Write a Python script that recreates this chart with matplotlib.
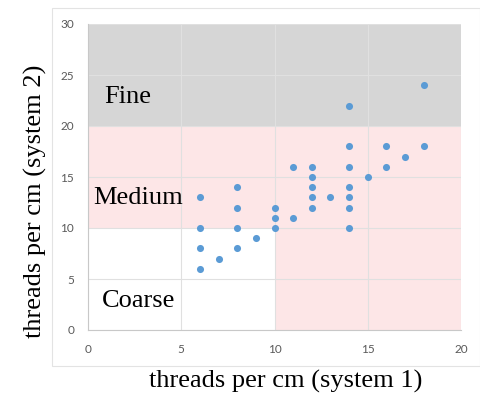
import matplotlib.pyplot as plt
from matplotlib.patches import Rectangle

# data points (system 1, system 2)
sys1 = [14, 18, 14, 16, 18, 17, 11, 12, 14, 16, 12, 15, 8, 12, 14,
        6, 12, 13, 14, 8, 10, 12, 14, 10, 11, 6, 8, 10, 14, 9, 6, 8, 7, 6]
sys2 = [22, 24, 18, 18, 18, 17, 16, 16, 16, 16, 15, 15, 14, 14, 14,
        13, 13, 13, 13, 12, 12, 12, 12, 11, 11, 10, 10, 10, 10, 9, 8, 8, 7, 6]

# class regions: (x0, x1, y0, y1)
fine_box = (0, 20, 20, 30)
medium_boxes = [(0, 20, 10, 20), (10, 20, 0, 10)]
labels = ["Fine", "Medium", "Coarse"]
label_pos = [(0.86, 22.8), (0.3, 12.9), (0.75, 2.85)]

fig = plt.figure(figsize=(4.81, 3.94), dpi=100)

# outer chart frame
fig.patches.append(Rectangle((52 / 481, 28 / 394), 428 / 481, 358 / 394,
                             transform=fig.transFigure, fill=False,
                             edgecolor="#e3e3e3", lw=0.8))

ax = fig.add_axes([88 / 481, 64 / 394, 373 / 481, 306 / 394])

x0, x1, y0, y1 = fine_box
ax.fill_between([x0, x1], y0, y1, color="#d6d6d6", lw=0, zorder=0)
for x0, x1, y0, y1 in medium_boxes:
    ax.fill_between([x0, x1], y0, y1, color="#fde6e7", lw=0, zorder=0)

ax.set_xlim(0, 20)
ax.set_ylim(0, 30)
ax.set_xticks([0, 5, 10, 15, 20])
ax.set_yticks([0, 5, 10, 15, 20, 25, 30])
ax.grid(True, color="#e0e0e0", lw=0.8, zorder=1)
ax.set_axisbelow(True)

ax.scatter(sys1, sys2, s=26, color="#5b9bd5", zorder=3, lw=0)

for txt, (tx, ty) in zip(labels, label_pos):
    ax.text(tx, ty, txt, fontsize=19, family="Liberation Serif",
            color="black", va="center", zorder=4)

for s in ["top", "right"]:
    ax.spines[s].set_visible(False)
for s in ["left", "bottom"]:
    ax.spines[s].set_color("#c8c8c8")
    ax.spines[s].set_linewidth(0.8)

ax.tick_params(length=0, pad=10, labelsize=8.5, labelcolor="#595959")
for lab in ax.get_xticklabels() + ax.get_yticklabels():
    lab.set_family("Lato")

fig.text(286 / 481, 1 - 381 / 394, "threads per cm (system 1)",
         ha="center", va="center", fontsize=19, family="Liberation Serif")
fig.text(35 / 481, 1 - 201 / 394, "threads per cm (system 2)",
         ha="center", va="center", rotation=90, fontsize=19,
         family="Liberation Serif")

fig.savefig("out.png", dpi=100)
